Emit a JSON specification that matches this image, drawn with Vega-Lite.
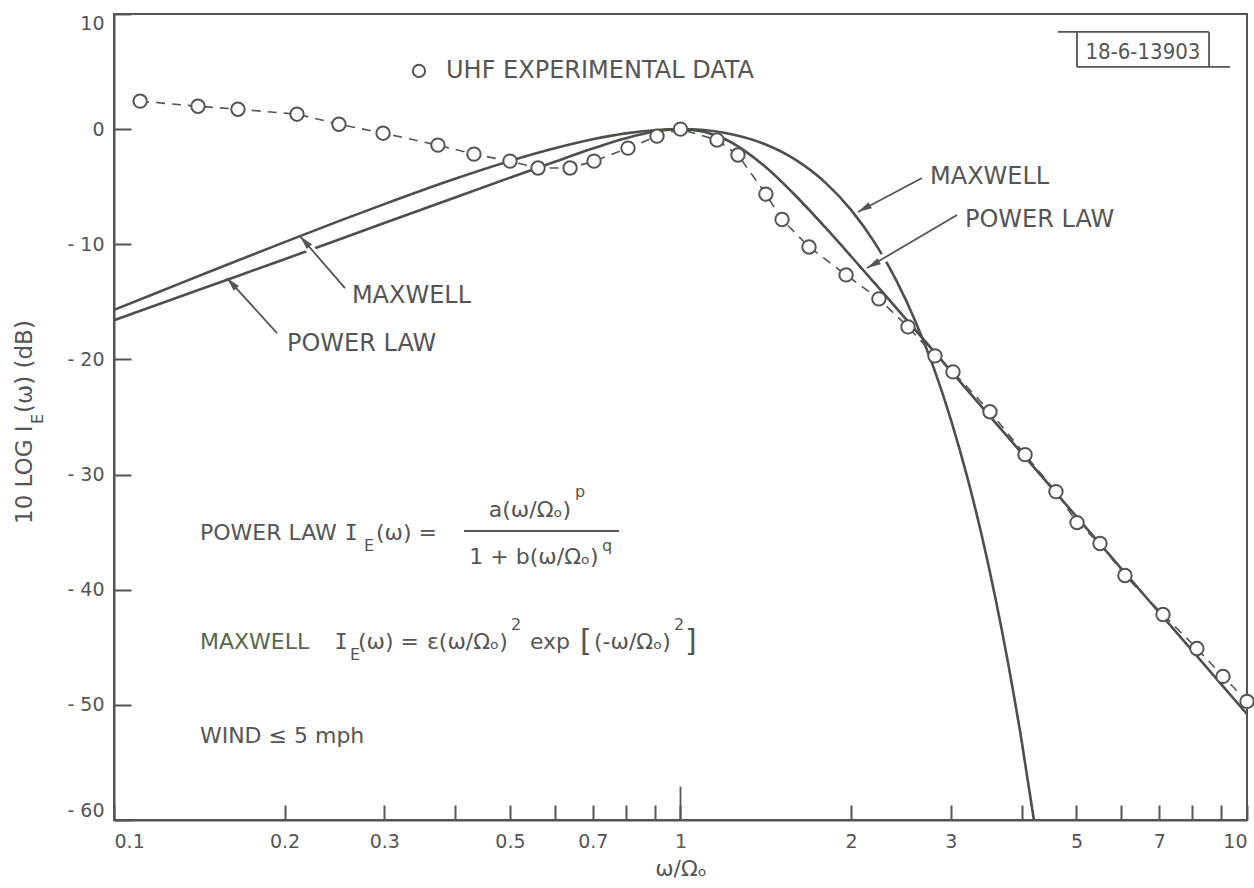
{
  "$schema": "https://vega.github.io/schema/vega-lite/v6.json",
  "width": 1133,
  "height": 806,
  "autosize": {"type": "none"},
  "padding": {"left": 114, "top": 14, "right": 7, "bottom": 68},
  "background": "white",
  "config": {
    "view": {"stroke": "#555", "strokeWidth": 2},
    "font": "DejaVu Sans",
    "axis": {
      "domainColor": "#555", "domainWidth": 2,
      "tickColor": "#555", "tickWidth": 2,
      "labelColor": "#555", "labelFont": "DejaVu Sans", "labelFontSize": 19,
      "titleColor": "#555", "titleFont": "DejaVu Sans", "titleFontWeight": "normal",
      "grid": false
    }
  },
  "datasets": {
    "curves": [
      {"model": "Maxwell", "w": 0.1, "db": -15.70},
      {"model": "Maxwell", "w": 0.12, "db": -14.14},
      {"model": "Maxwell", "w": 0.15, "db": -12.23},
      {"model": "Maxwell", "w": 0.2, "db": -9.81},
      {"model": "Maxwell", "w": 0.25, "db": -7.97},
      {"model": "Maxwell", "w": 0.3, "db": -6.51},
      {"model": "Maxwell", "w": 0.4, "db": -4.31},
      {"model": "Maxwell", "w": 0.5, "db": -2.76},
      {"model": "Maxwell", "w": 0.6, "db": -1.66},
      {"model": "Maxwell", "w": 0.7, "db": -0.88},
      {"model": "Maxwell", "w": 0.8, "db": -0.37},
      {"model": "Maxwell", "w": 0.9, "db": -0.09},
      {"model": "Maxwell", "w": 1.0, "db": 0},
      {"model": "Maxwell", "w": 1.1, "db": -0.08},
      {"model": "Maxwell", "w": 1.2, "db": -0.33},
      {"model": "Maxwell", "w": 1.4, "db": -1.25},
      {"model": "Maxwell", "w": 1.6, "db": -2.69},
      {"model": "Maxwell", "w": 1.8, "db": -4.62},
      {"model": "Maxwell", "w": 2.0, "db": -7.01},
      {"model": "Maxwell", "w": 2.2, "db": -9.83},
      {"model": "Maxwell", "w": 2.4, "db": -13.07},
      {"model": "Maxwell", "w": 2.6, "db": -16.72},
      {"model": "Maxwell", "w": 2.8, "db": -20.76},
      {"model": "Maxwell", "w": 3.0, "db": -25.20},
      {"model": "Maxwell", "w": 3.2, "db": -30.03},
      {"model": "Maxwell", "w": 3.4, "db": -35.23},
      {"model": "Maxwell", "w": 3.6, "db": -40.82},
      {"model": "Maxwell", "w": 3.8, "db": -46.77},
      {"model": "Maxwell", "w": 4.0, "db": -53.10},
      {"model": "Maxwell", "w": 4.206, "db": -60.0},
      {"model": "Power law", "w": 0.1, "db": -16.6},
      {"model": "Power law", "w": 0.15, "db": -13.5},
      {"model": "Power law", "w": 0.2, "db": -11.3},
      {"model": "Power law", "w": 0.3, "db": -8.15},
      {"model": "Power law", "w": 0.4, "db": -5.93},
      {"model": "Power law", "w": 0.5, "db": -4.22},
      {"model": "Power law", "w": 0.6, "db": -2.83},
      {"model": "Power law", "w": 0.7, "db": -1.69},
      {"model": "Power law", "w": 0.8, "db": -0.80},
      {"model": "Power law", "w": 0.9, "db": -0.21},
      {"model": "Power law", "w": 1.0, "db": 0},
      {"model": "Power law", "w": 1.1, "db": -0.23},
      {"model": "Power law", "w": 1.2, "db": -0.88},
      {"model": "Power law", "w": 1.4, "db": -3.12},
      {"model": "Power law", "w": 1.6, "db": -5.83},
      {"model": "Power law", "w": 1.8, "db": -8.52},
      {"model": "Power law", "w": 2.0, "db": -11.04},
      {"model": "Power law", "w": 2.2, "db": -13.36},
      {"model": "Power law", "w": 2.5, "db": -16.50},
      {"model": "Power law", "w": 3.0, "db": -21.0},
      {"model": "Power law", "w": 3.5, "db": -24.82},
      {"model": "Power law", "w": 4.0, "db": -28.12},
      {"model": "Power law", "w": 5.0, "db": -33.65},
      {"model": "Power law", "w": 6.0, "db": -38.16},
      {"model": "Power law", "w": 7.0, "db": -41.98},
      {"model": "Power law", "w": 8.0, "db": -45.28},
      {"model": "Power law", "w": 9.0, "db": -48.2},
      {"model": "Power law", "w": 10.0, "db": -50.8}
    ],
    "uhf": [
      {"w": 0.1112, "db": 2.43},
      {"w": 0.1407, "db": 1.99},
      {"w": 0.1655, "db": 1.73},
      {"w": 0.2104, "db": 1.30},
      {"w": 0.2495, "db": 0.43},
      {"w": 0.2985, "db": -0.35},
      {"w": 0.3731, "db": -1.39},
      {"w": 0.4319, "db": -2.17},
      {"w": 0.5001, "db": -2.78},
      {"w": 0.5604, "db": -3.38},
      {"w": 0.6383, "db": -3.38},
      {"w": 0.7036, "db": -2.78},
      {"w": 0.8079, "db": -1.65},
      {"w": 0.9088, "db": -0.61},
      {"w": 1.0, "db": 0.0},
      {"w": 1.160, "db": -0.95},
      {"w": 1.263, "db": -2.25},
      {"w": 1.415, "db": -5.64},
      {"w": 1.511, "db": -7.85},
      {"w": 1.686, "db": -10.23},
      {"w": 1.960, "db": -12.66},
      {"w": 2.240, "db": -14.74},
      {"w": 2.521, "db": -17.17},
      {"w": 2.813, "db": -19.69},
      {"w": 3.027, "db": -21.08},
      {"w": 3.518, "db": -24.54},
      {"w": 4.057, "db": -28.27},
      {"w": 4.600, "db": -31.48},
      {"w": 5.011, "db": -34.17},
      {"w": 5.502, "db": -35.99},
      {"w": 6.089, "db": -38.77},
      {"w": 7.107, "db": -42.15},
      {"w": 8.157, "db": -45.10},
      {"w": 9.070, "db": -47.53},
      {"w": 10.0, "db": -49.70}
    ],
    "key": [{"w": 0.3454, "db": 5.05}],
    "arrows": [
      {"label": "MAXWELL", "side": "left", "w": 0.2130, "db": -9.30, "w2": 0.2557, "db2": -13.80},
      {"label": "POWER LAW", "side": "left", "w": 0.1583, "db": -12.93, "w2": 0.1940, "db2": -17.71},
      {"label": "MAXWELL", "side": "right", "w": 2.057, "db": -7.20, "w2": 2.669, "db2": -4.24},
      {"label": "POWER LAW", "side": "right", "w": 2.134, "db": -12.06, "w2": 3.077, "db2": -7.46}
    ],
    "gaps": [
      {"crossing": "MAXWELL arrow over power-law line", "w": 0.2262, "db": -10.88, "w2": 0.2177, "db2": -9.96},
      {"crossing": "POWER LAW arrow over Maxwell line", "w": 2.382, "db": -10.68, "w2": 2.214, "db2": -11.60}
    ],
    "rules": [
      {"item": "major tick 1", "w": 1.0, "db": -60, "w2": 1.0, "db2": -57.1},
      {"item": "fraction bar", "w": 0.4148, "db": -34.90, "w2": 0.7787, "db2": -34.90},
      {"item": "stamp top", "w": 4.638, "db": 8.44, "w2": 8.57, "db2": 8.44},
      {"item": "stamp left", "w": 5.01, "db": 8.44, "w2": 5.01, "db2": 5.40},
      {"item": "stamp right", "w": 8.57, "db": 8.44, "w2": 8.57, "db2": 5.40},
      {"item": "stamp bottom", "w": 5.01, "db": 5.40, "w2": 9.33, "db2": 5.40}
    ],
    "notes": [
      {"role": "label", "text": "UHF EXPERIMENTAL DATA", "w": 0.3856, "db": 5.05},
      {"role": "label", "text": "MAXWELL", "w": 2.757, "db": -4.16},
      {"role": "label", "text": "POWER LAW", "w": 3.178, "db": -7.89},
      {"role": "label", "text": "MAXWELL", "w": 0.2630, "db": -14.49},
      {"role": "label", "text": "POWER LAW", "w": 0.2020, "db": -18.66},
      {"role": "formula", "text": "POWER LAW", "w": 0.1418, "db": -35.08},
      {"role": "formula", "text": "(ω) =", "w": 0.2901, "db": -35.08},
      {"role": "formula", "text": "(ω) =", "w": 0.2696, "db": -44.54},
      {"role": "formula", "text": "ε(ω/Ωₒ)", "w": 0.3568, "db": -44.54},
      {"role": "formula", "text": "exp", "w": 0.5423, "db": -44.54},
      {"role": "formula", "text": "(-ω/Ωₒ)", "w": 0.7036, "db": -44.54},
      {"role": "formula", "text": "WIND ≤ 5 mph", "w": 0.1418, "db": -52.71},
      {"role": "center", "text": "a(ω/Ωₒ)", "w": 0.5423, "db": -33.08},
      {"role": "center", "text": "1 + b(ω/Ωₒ)", "w": 0.5513, "db": -37.16},
      {"role": "letterI", "text": "I", "w": 0.2621, "db": -35.08},
      {"role": "letterI", "text": "I", "w": 0.2516, "db": -44.54},
      {"role": "green", "text": "MAXWELL", "w": 0.1418, "db": -44.54},
      {"role": "script", "text": "E", "w": 0.2763, "db": -36.20},
      {"role": "script", "text": "p", "w": 0.6514, "db": -31.51},
      {"role": "script", "text": "q", "w": 0.7265, "db": -36.20},
      {"role": "script", "text": "E", "w": 0.2609, "db": -45.67},
      {"role": "script", "text": "2", "w": 0.5022, "db": -43.07},
      {"role": "script", "text": "2", "w": 0.9739, "db": -43.07},
      {"role": "bracket", "text": "[", "w": 0.6646, "db": -44.54},
      {"role": "bracket", "text": "]", "w": 1.0184, "db": -44.54},
      {"role": "stamp", "text": "18-6-13903", "w": 6.55, "db": 6.70},
      {"role": "ytitle", "text": "10 LOG I", "w": 0.06966, "db": -34.29},
      {"role": "ytitle", "text": "(ω) (dB)", "w": 0.06966, "db": -24.65},
      {"role": "ysub", "text": "E", "w": 0.07339, "db": -25.61}
    ]
  },
  "encoding": {
    "x": {
      "field": "w", "type": "quantitative",
      "scale": {"type": "log", "domain": [0.1, 10]},
      "axis": {
        "values": [0.1, 0.2, 0.3, 0.4, 0.5, 0.6, 0.7, 0.8, 0.9, 1, 2, 3, 4, 5, 6, 7, 8, 9, 10],
        "labelExpr": "indexof([0.4, 0.6, 0.8, 0.9, 4, 6, 8, 9], datum.value) >= 0 ? '' : format(datum.value, '~g')",
        "labelFlush": true,
        "labelOverlap": false,
        "labelFontSize": 19,
        "labelColor": "#555",
        "tickSize": -15,
        "labelPadding": 27,
        "title": "ω/Ωₒ",
        "titleFontSize": 22,
        "titleBaseline": "alphabetic",
        "titleY": 55
      }
    },
    "y": {
      "field": "db", "type": "quantitative",
      "scale": {"domain": [-60, 10], "nice": false, "zero": false},
      "axis": {
        "values": [10, 0, -10, -20, -30, -40, -50, -60],
        "labelExpr": "datum.value < 0 ? '- ' + abs(datum.value) : '' + datum.value",
        "labelFlush": true,
        "labelOverlap": false,
        "labelFontSize": 19,
        "labelColor": "#555",
        "tickSize": -17,
        "labelPadding": 27,
        "title": null
      }
    }
  },
  "layer": [
    {
      "data": {"name": "curves"},
      "mark": {"type": "line", "color": "#4b5049", "strokeWidth": 2.6, "interpolate": "monotone"},
      "encoding": {"detail": {"field": "model"}}
    },
    {
      "data": {"name": "gaps"},
      "mark": {"type": "rule", "color": "white", "strokeWidth": 9},
      "encoding": {"x2": {"field": "w2"}, "y2": {"field": "db2"}}
    },
    {
      "data": {"name": "rules"},
      "mark": {"type": "rule", "color": "#555", "strokeWidth": 1.8},
      "encoding": {"x2": {"field": "w2"}, "y2": {"field": "db2"}}
    },
    {
      "data": {"name": "arrows"},
      "mark": {"type": "rule", "color": "#555", "strokeWidth": 1.8},
      "encoding": {"x2": {"field": "w2"}, "y2": {"field": "db2"}}
    },
    {
      "data": {"name": "arrows"},
      "transform": [{"filter": "datum.side === 'left'"}],
      "mark": {"type": "point", "shape": "M0,0L-0.5,2L0.5,2Z", "filled": true, "color": "#555", "size": 196, "angle": 318, "opacity": 1}
    },
    {
      "data": {"name": "arrows"},
      "transform": [{"filter": "datum.side === 'right'"}],
      "mark": {"type": "point", "shape": "M0,0L-0.5,2L0.5,2Z", "filled": true, "color": "#555", "size": 196, "angle": 241, "opacity": 1}
    },
    {
      "data": {"name": "uhf"},
      "mark": {"type": "line", "color": "#555", "strokeWidth": 1.6, "strokeDash": [9, 7]}
    },
    {
      "data": {"name": "uhf"},
      "mark": {"type": "point", "shape": "circle", "filled": true, "fill": "white", "stroke": "#555", "strokeWidth": 2, "size": 180, "opacity": 1}
    },
    {
      "data": {"name": "key"},
      "mark": {"type": "point", "shape": "circle", "filled": true, "fill": "white", "stroke": "#555", "strokeWidth": 2, "size": 150, "opacity": 1}
    },
    {
      "data": {"name": "notes"},
      "transform": [{"filter": "datum.role === 'label'"}],
      "mark": {"type": "text", "align": "left", "baseline": "middle", "fontSize": 24, "color": "#555"},
      "encoding": {"text": {"field": "text"}}
    },
    {
      "data": {"name": "notes"},
      "transform": [{"filter": "datum.role === 'formula'"}],
      "mark": {"type": "text", "align": "left", "baseline": "middle", "fontSize": 22, "color": "#555"},
      "encoding": {"text": {"field": "text"}}
    },
    {
      "data": {"name": "notes"},
      "transform": [{"filter": "datum.role === 'center'"}],
      "mark": {"type": "text", "align": "center", "baseline": "middle", "fontSize": 22, "color": "#555"},
      "encoding": {"text": {"field": "text"}}
    },
    {
      "data": {"name": "notes"},
      "transform": [{"filter": "datum.role === 'letterI'"}],
      "mark": {"type": "text", "align": "center", "baseline": "middle", "fontSize": 22, "font": "DejaVu Sans Mono", "color": "#555"},
      "encoding": {"text": {"field": "text"}}
    },
    {
      "data": {"name": "notes"},
      "transform": [{"filter": "datum.role === 'green'"}],
      "mark": {"type": "text", "align": "left", "baseline": "middle", "fontSize": 22, "color": "#56684a"},
      "encoding": {"text": {"field": "text"}}
    },
    {
      "data": {"name": "notes"},
      "transform": [{"filter": "datum.role === 'script'"}],
      "mark": {"type": "text", "align": "left", "baseline": "middle", "fontSize": 16, "color": "#555"},
      "encoding": {"text": {"field": "text"}}
    },
    {
      "data": {"name": "notes"},
      "transform": [{"filter": "datum.role === 'bracket'"}],
      "mark": {"type": "text", "align": "left", "baseline": "middle", "fontSize": 30, "color": "#555"},
      "encoding": {"text": {"field": "text"}}
    },
    {
      "data": {"name": "notes"},
      "transform": [{"filter": "datum.role === 'stamp'"}],
      "mark": {"type": "text", "align": "center", "baseline": "middle", "fontSize": 22, "font": "DejaVu Sans Condensed, Liberation Sans Narrow, DejaVu Sans", "color": "#555"},
      "encoding": {"text": {"field": "text"}}
    },
    {
      "data": {"name": "notes"},
      "transform": [{"filter": "datum.role === 'ytitle'"}],
      "mark": {"type": "text", "align": "left", "baseline": "middle", "fontSize": 23, "angle": 270, "color": "#555"},
      "encoding": {"text": {"field": "text"}}
    },
    {
      "data": {"name": "notes"},
      "transform": [{"filter": "datum.role === 'ysub'"}],
      "mark": {"type": "text", "align": "left", "baseline": "middle", "fontSize": 16, "angle": 270, "color": "#555"},
      "encoding": {"text": {"field": "text"}}
    }
  ]
}
